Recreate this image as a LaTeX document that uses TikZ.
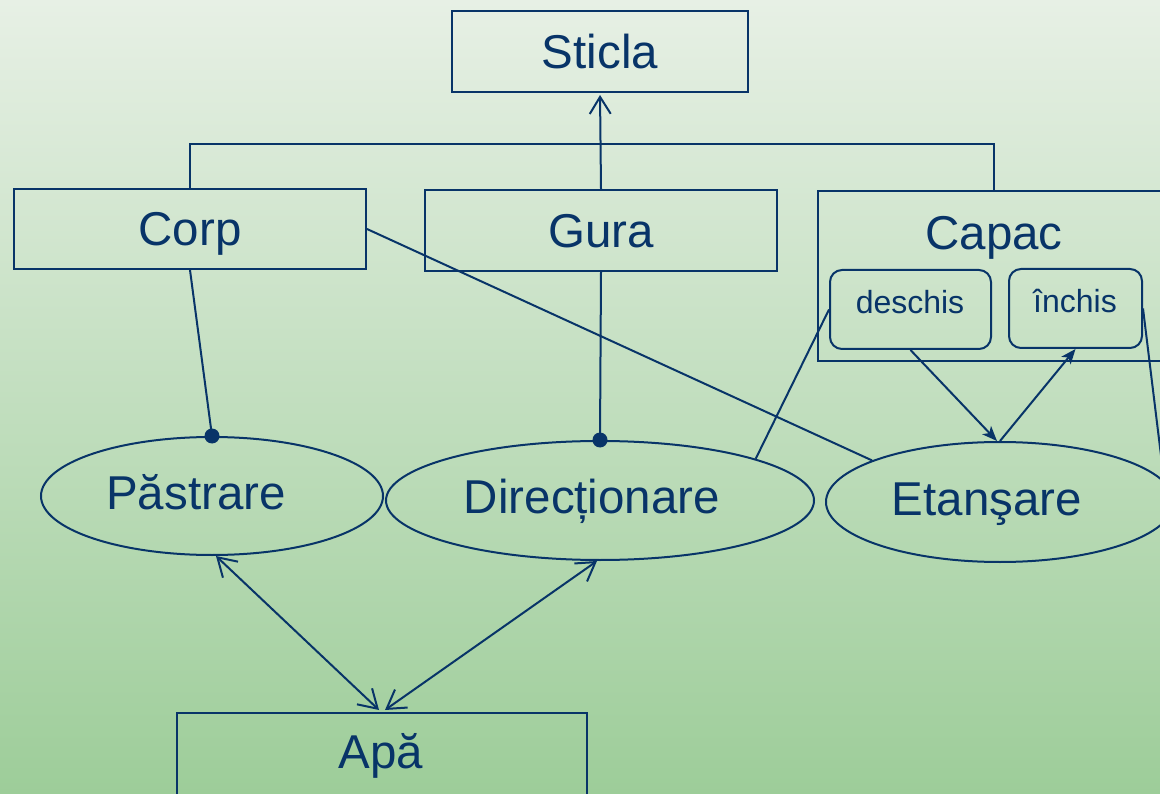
\documentclass[tikz,border=0pt]{standalone}
\usepackage{fontspec}
\setmainfont{Liberation Sans}
\usetikzlibrary{shapes.geometric,arrows.meta}
\definecolor{navy}{RGB}{8,52,104}
\definecolor{bgtop}{RGB}{231,240,229}
\definecolor{bgbot}{RGB}{157,205,153}
\begin{document}
\begin{tikzpicture}[x=1pt,y=-1pt,
  box/.style={draw=navy, line width=2pt, text=navy, inner sep=0pt,
    text height=34pt, text depth=0pt,
    font=\fontsize{47.5}{52}\selectfont},
  small/.style={draw=navy, line width=2pt, inner sep=0pt, rounded corners=12pt},
  oval/.style={ellipse, draw=navy, line width=2pt, inner sep=0pt},
  lbl/.style={text=navy, inner sep=0pt, anchor=base, font=\fontsize{47.5}{52}\selectfont},
  slbl/.style={text=navy, inner sep=0pt, anchor=base, font=\fontsize{32}{36}\selectfont},
  conn/.style={draw=navy, line width=2pt},
  barb/.style={-{Straight Barb[length=17pt,width=21pt,line width=2pt]}},
  dbarb/.style={{Straight Barb[length=18pt,width=22pt,line width=2pt]}-{Straight Barb[length=18pt,width=22pt,line width=2pt]}},
  stl/.style={-{Stealth[length=15pt,width=12pt,inset=4pt]}}
]
\useasboundingbox (0,0) rectangle (1160,794);
\clip (0,0) rectangle (1160,794);
\shade[top color=bgtop, bottom color=bgbot] (0,0) rectangle (1160,794);

% boxes
\node[box, minimum width=296, minimum height=81] (sticla) at (600,51.5) {Sticla};
\node[box, minimum width=352, minimum height=80] (corp) at (190,229) {Corp};
\node[box, minimum width=352, minimum height=81] (gura) at (601,230.5) {Gura};
\node[box, minimum width=352, minimum height=170] (capac) at (994,276) {};
\node[lbl] (capaclbl) at (994,250) {Capac};
\node[small, minimum width=161, minimum height=79] (deschis) at (910.5,309.5) {};
\node[slbl] (deschislbl) at (910,314) {deschis};
\node[small, minimum width=133, minimum height=79] (inchis) at (1075.5,308.5) {};
\node[slbl] (inchislbl) at (1075,313) {închis};
\node[box, minimum width=410, minimum height=90] (apa) at (382,758) {};
\node[lbl] (apalbl) at (381,768) {Apă};

% ellipses
\node[oval, minimum width=342, minimum height=118] (past) at (212,496) {};
\node[lbl] (pastlbl) at (196,509) {Păstrare};
\node[oval, minimum width=428, minimum height=119] (dir) at (600,500.5) {};
\node[lbl] (dirlbl) at (592,513) {Direcționare};
\node[oval, minimum width=348, minimum height=120] (etan) at (1000,502) {};
\node[lbl] (etanlbl) at (987,515) {Etanşare};

\coordinate (offr) at (1164,480);

% connectors
\draw[conn] (corp.north) -- ++(0,-44) -| (capac.north);
\draw[conn, barb, shorten >=2pt] (gura.north) -- (sticla.south);
\draw[conn] (corp.south) -- (past.north);
\fill[navy] (past.north) circle (7.5);
\draw[conn] (gura.south) -- (dir.north);
\fill[navy] (dir.north) circle (7.5);
\draw[conn] (corp.east) -- (etan.162);
\draw[conn] (deschis.west) -- (dir.15);
\draw[conn, stl] (deschis.south) -- ([xshift=-3pt]etan.north);
\draw[conn, stl] (etan.north) -- (inchis.south);
\draw[conn] (inchis.east) -- (offr);
\draw[conn, dbarb] ([xshift=4pt]past.south) -- ([xshift=-3pt,yshift=2pt]apa.north);
\draw[conn, dbarb] ([xshift=-3pt]dir.south) -- ([xshift=3pt,yshift=2pt]apa.north);
\end{tikzpicture}
\end{document}
